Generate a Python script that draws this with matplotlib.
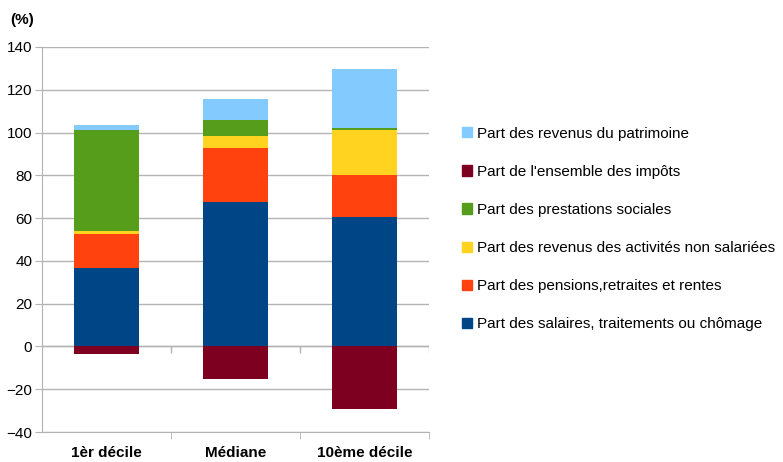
import matplotlib.pyplot as plt
import matplotlib.patches as mpatches
import numpy as np

plt.rcParams['font.family'] = ['Liberation Sans', 'DejaVu Sans']

categories = ["1èr décile", "Médiane", "10ème décile"]

# stacked positive parts, bottom to top
salaires = [36.9, 67.3, 60.3]
pensions = [15.9, 25.3, 19.7]
activites = [1.4, 6.0, 21.0]
prestations = [46.8, 7.5, 0.9]
patrimoine = [2.3, 9.4, 27.6]
# negative part
impots = [-3.3, -15.4, -29.4]

labels = {
    "salaires": "Part des salaires, traitements ou chômage",
    "pensions": "Part des pensions,retraites et rentes",
    "activites": "Part des revenus des activités non salariées",
    "prestations": "Part des prestations sociales",
    "impots": "Part de l'ensemble des impôts",
    "patrimoine": "Part des revenus du patrimoine",
}
colors = {
    "salaires": "#004586",
    "pensions": "#ff420e",
    "activites": "#ffd320",
    "prestations": "#579d1c",
    "impots": "#7e0021",
    "patrimoine": "#83caff",
}

fig = plt.figure(figsize=(7.83, 4.62), dpi=100)
ax = fig.add_axes([42 / 783, 1 - 432 / 462, 387 / 783, 385 / 462])

x = np.arange(len(categories))
w = 0.5
bottom = np.zeros(len(categories))
for key, vals in [("salaires", salaires), ("pensions", pensions),
                  ("activites", activites), ("prestations", prestations),
                  ("patrimoine", patrimoine)]:
    ax.bar(x, vals, w, bottom=bottom, color=colors[key], zorder=3)
    bottom += np.array(vals)
ax.bar(x, impots, w, color=colors["impots"], zorder=3)

ax.set_xlim(-0.5, 2.5)
ax.set_ylim(-40, 140)
ax.set_yticks(np.arange(-40, 141, 20))
ax.yaxis.grid(True, color="#b3b3b3", linewidth=1, zorder=0)
ax.axhline(0, color="#b3b3b3", linewidth=1, zorder=1)

# category separator ticks at bottom and on zero line
ax.set_xticks(x)
ax.set_xticklabels(categories, fontweight="bold", fontsize=11)
ax.set_xticks([0.5, 1.5, 2.5], minor=True)
ax.tick_params(axis="x", which="major", length=0, pad=10)
ax.tick_params(axis="x", which="minor", length=5, color="#b3b3b3")
ax.vlines([0.5, 1.5, 2.5], -3, 0, color="#b3b3b3", linewidth=1, zorder=1)
ax.tick_params(axis="y", length=5, color="#b3b3b3", labelsize=11, pad=2)

for s in ["top", "right"]:
    ax.spines[s].set_visible(False)
ax.spines["left"].set_color("#b3b3b3")
ax.spines["bottom"].set_color("#b3b3b3")

fig.text(10 / 783, 1 - 20 / 462, "(%)", fontweight="bold", fontsize=11,
         va="center", ha="left")

order = ["patrimoine", "impots", "prestations", "activites", "pensions", "salaires"]
handles = [mpatches.Patch(color=colors[k], label=labels[k]) for k in order]
fig.legend(handles=handles, loc="center left",
           bbox_to_anchor=(454 / 783, 1 - 229 / 462), frameon=False,
           borderpad=0, handlelength=0.65, handleheight=0.65,
           handletextpad=0.35, labelspacing=1.58, fontsize=11)

fig.savefig("out.png", dpi=100)
